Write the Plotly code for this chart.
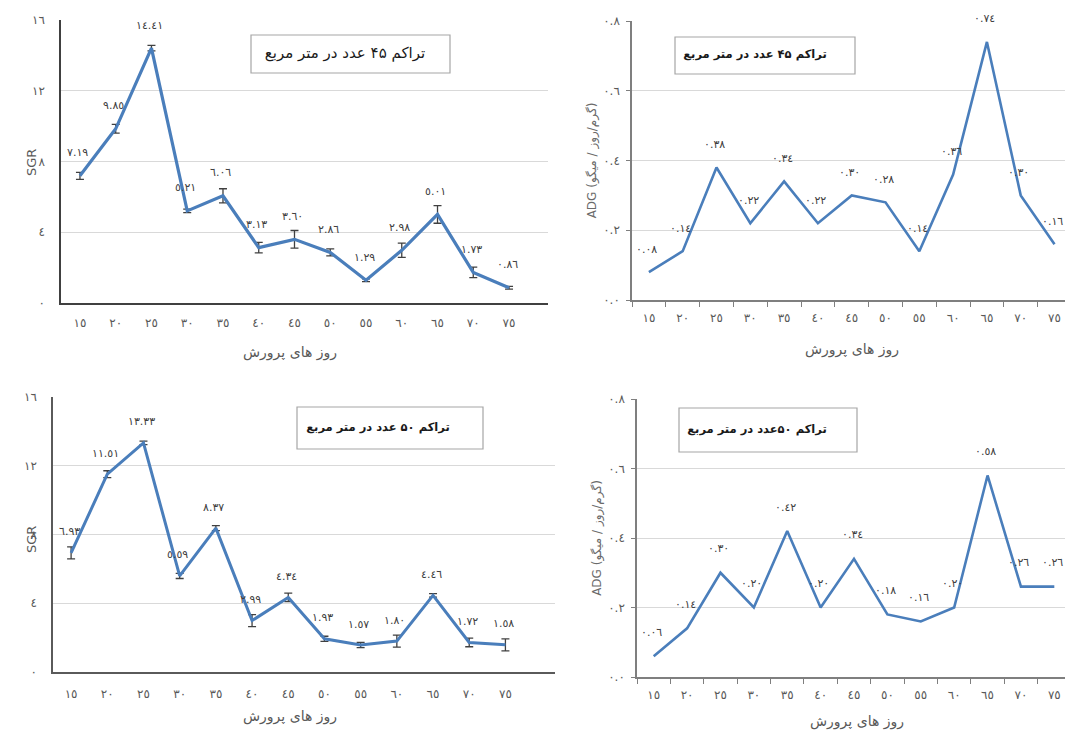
import plotly.graph_objects as go

W, H = 1065, 731

# ---------------- data ----------------
days = [15, 20, 25, 30, 35, 40, 45, 50, 55, 60, 65, 70, 75]

sgr_45 = [7.19, 9.85, 14.41, 5.21, 6.06, 3.13, 3.60, 2.86, 1.29, 2.98, 5.01, 1.73, 0.86]
sgr_45_err = [0.2, 0.25, 0.15, 0.1, 0.4, 0.3, 0.5, 0.2, 0.08, 0.4, 0.5, 0.3, 0.08]

adg_45 = [0.08, 0.14, 0.38, 0.22, 0.34, 0.22, 0.30, 0.28, 0.14, 0.36, 0.74, 0.30, 0.16]

sgr_50 = [6.93, 11.51, 13.33, 5.59, 8.37, 2.99, 4.34, 1.93, 1.57, 1.80, 4.46, 1.72, 1.58]
sgr_50_err = [0.35, 0.2, 0.1, 0.15, 0.15, 0.35, 0.25, 0.15, 0.15, 0.35, 0.1, 0.25, 0.35]

adg_50 = [0.06, 0.14, 0.30, 0.20, 0.42, 0.20, 0.34, 0.18, 0.16, 0.20, 0.58, 0.26, 0.26]

sgr_ticks = [0, 4, 8, 12, 16]
adg_ticks = [0.0, 0.2, 0.4, 0.6, 0.8]

title_45 = "تراکم ۴۵ عدد در متر مربع"
title_50 = "تراکم ۵۰ عدد در متر مربع"
title_50b = "تراکم ۵۰عدد در متر مربع"
x_title = "روز های پرورش"
sgr_title = "SGR"
adg_title = "ADG (گرم/روز / میگو)"

# ---------------- helpers ----------------
AR = str.maketrans("0123456789", "٠١٢٣٤٥٦٧٨٩")


def ar(s):
    return str(s).translate(AR)


cats = [ar(d) for d in days]
BLUE = "#4a7ebb"
FONT = "DejaVu Sans"


def px(x):
    return x / W


def py(y):
    return 1 - y / H


fig = go.Figure()

panels = [
    dict(v=sgr_45, e=sgr_45_err, xa="x", ya="y", xd=(61, 548), yd=(20, 303),
         xr=[-0.53, 13.09], yr=[0, 16], ticks=sgr_ticks, fmt=lambda t: ar(int(t)),
         lw=3.2, shift=23, axc="#404040", tick=False, ylso=12, xlso=8),
    dict(v=adg_45, e=None, xa="x2", ya="y2", xd=(632, 1065), yd=(21, 300),
         xr=[-0.5, 12.31], yr=[0, 0.8], ticks=adg_ticks, fmt=lambda t: ar(f"{t:.1f}"),
         lw=2.6, shift=23, axc="#7f7f7f", tick=True, ylso=4, xlso=6),
    dict(v=sgr_50, e=sgr_50_err, xa="x3", ya="y3", xd=(53, 555), yd=(397, 672),
         xr=[-0.5, 13.37], yr=[0, 16], ticks=sgr_ticks, fmt=lambda t: ar(int(t)),
         lw=3.0, shift=21, axc="#5a5a5a", tick=False, ylso=12, xlso=10),
    dict(v=adg_50, e=None, xa="x4", ya="y4", xd=(637, 1065), yd=(399, 677),
         xr=[-0.5, 12.32], yr=[0, 0.8], ticks=adg_ticks, fmt=lambda t: ar(f"{t:.1f}"),
         lw=2.6, shift=24, axc="#7f7f7f", tick=True, ylso=4, xlso=6),
]

annotations = []
shapes = []

for i, p in enumerate(panels):
    tr = dict(
        x=cats, y=p["v"], mode="lines",
        line=dict(color=BLUE, width=p["lw"]),
        xaxis=p["xa"], yaxis=p["ya"], showlegend=False, hoverinfo="x+y",
    )
    if p["e"] is not None:
        tr["error_y"] = dict(type="data", array=p["e"], visible=True,
                             color="#404040", thickness=1.3, width=4)
    fig.add_trace(go.Scatter(**tr))

    sfx = "" if i == 0 else str(i + 1)
    fig.layout["xaxis" + sfx] = dict(
        domain=[px(p["xd"][0]), px(p["xd"][1])],
        anchor=p["ya"], type="category", range=p["xr"],
        showgrid=False, zeroline=False,
        showline=True, linecolor=p["axc"], linewidth=2 if i == 0 else 1.5,
        ticks="outside" if p["tick"] else "", ticklen=5, tickcolor="#7f7f7f",
        tickson="boundaries", ticklabelstandoff=p["xlso"],
        tickfont=dict(family=FONT, size=12, color="#595959"),
        automargin=False, fixedrange=True,
    )
    yax = dict(
        domain=[py(p["yd"][1]), py(p["yd"][0])],
        anchor=p["xa"], range=p["yr"],
        tickvals=p["ticks"], ticktext=[p["fmt"](t) for t in p["ticks"]],
        showgrid=True, gridcolor="#d9d9d9", gridwidth=1,
        zeroline=False, showline=True, linecolor=p["axc"],
        linewidth=1.5,
        ticks="outside" if p["tick"] else "", ticklen=4, tickcolor="#7f7f7f",
        ticklabelstandoff=p["ylso"],
        tickfont=dict(family=FONT, size=12, color="#595959"),
        automargin=False, fixedrange=True,
    )
    if p["tick"]:
        yax["title"] = dict(text=adg_title, standoff=4,
                            font=dict(family=FONT, size=12, color="#6a6a6a"))
    fig.layout["yaxis" + sfx] = yax

    # data labels
    for j, val in enumerate(p["v"]):
        annotations.append(dict(
            x=j, y=val, xref=p["xa"], yref=p["ya"], text=ar(f"{val:.2f}"),
            showarrow=False, yshift=p["shift"], xshift=-2,
            xanchor="center", yanchor="middle",
            font=dict(family=FONT, size=11, color="#404040"),
        ))

# SGR axis titles (rotated)
for cx, cy in [(31, 163), (31, 540)]:
    annotations.append(dict(x=px(cx), y=py(cy), xref="paper", yref="paper",
                            text=sgr_title, showarrow=False, textangle=-90,
                            xanchor="center", yanchor="middle",
                            font=dict(family=FONT, size=13, color="#595959")))

# overlay axis in pixel units for free-standing Persian texts
fig.layout["xaxis5"] = dict(domain=[0, 1], range=[0, W], visible=False,
                            anchor="y5", fixedrange=True)
fig.layout["yaxis5"] = dict(domain=[0, 1], range=[H, 0], visible=False,
                            anchor="x5", fixedrange=True)

# title boxes
boxes = [
    ((251, 35, 450, 73), title_45, 345, 15, "normal"),
    ((675, 37, 855, 74), title_45, 755, 11.5, "bold"),
    ((297, 407, 483, 449), title_50, 378, 11.5, "bold"),
    ((679, 408, 857, 452), title_50b, 757, 11.5, "bold"),
]
for (x0, y0, x1, y1), t, cx, fs, wt in boxes:
    shapes.append(dict(type="rect", xref="paper", yref="paper",
                       x0=px(x0), x1=px(x1), y0=py(y1), y1=py(y0),
                       line=dict(color="#a6a6a6", width=1.2), fillcolor="white",
                       layer="below"))
    fig.add_trace(go.Scatter(
        x=[cx], y=[(y0 + y1) / 2], mode="text", text=[t],
        textposition="middle center", xaxis="x5", yaxis="y5",
        textfont=dict(family=FONT, size=fs, color="#1a1a1a", weight=wt),
        hoverinfo="skip", showlegend=False,
    ))

# x-axis titles
xt_pos = [(290, 353), (852, 350), (290, 717), (857, 722)]
fig.add_trace(go.Scatter(
    x=[p[0] for p in xt_pos], y=[p[1] for p in xt_pos], mode="text",
    text=[x_title] * len(xt_pos), textposition="middle center",
    xaxis="x5", yaxis="y5",
    textfont=dict(family=FONT, size=14, color="#595959"),
    hoverinfo="skip", showlegend=False,
))

fig.update_layout(
    width=W, height=H,
    margin=dict(l=0, r=0, t=0, b=0, pad=0, autoexpand=False),
    paper_bgcolor="white", plot_bgcolor="rgba(0,0,0,0)",
    annotations=annotations, shapes=shapes,
    showlegend=False,
)

fig.write_html(
    "out.html",
    config={"displayModeBar": False},
    post_script="document.body.style.margin='0';document.body.style.overflow='hidden';",
)
